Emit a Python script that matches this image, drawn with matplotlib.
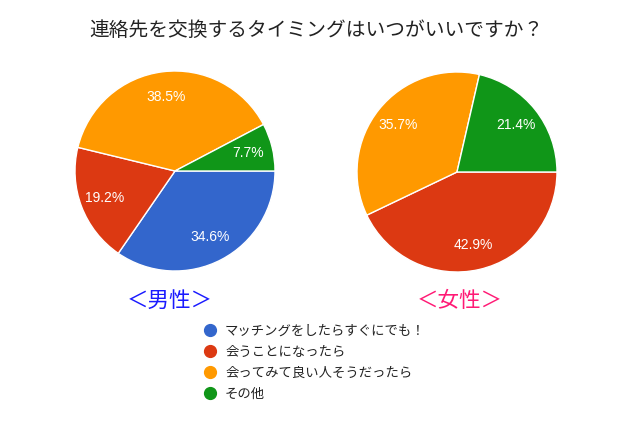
import matplotlib
matplotlib.use('Agg')
import matplotlib.pyplot as plt
from matplotlib.lines import Line2D

plt.rcParams['font.family'] = ['Noto Sans CJK JP', 'DejaVu Sans']

# データ
title = '連絡先を交換するタイミングはいつがいいですか？'
categories = ['マッチングをしたらすぐにでも！', '会うことになったら', '会ってみて良い人そうだったら', 'その他']
colors = ['#3366cc', '#dc3912', '#ff9900', '#109618']
male = [34.6, 19.2, 38.5, 7.7]
female = [0.0, 42.9, 35.7, 21.4]
group_labels = ['＜男性＞', '＜女性＞']
group_colors = ['#1a1aff', '#ff1a75']

W, H = 640, 425
fig = plt.figure(figsize=(W / 100, H / 100), dpi=100)
fig.patch.set_facecolor('white')


def pie_axes(cx, cy, r):
    # ピクセル座標から軸を作る
    return fig.add_axes([(cx - r) / W, 1 - (cy + r) / H, 2 * r / W, 2 * r / H])


def draw_pie(ax, vals):
    v = [x for x in vals if x > 0]
    c = [colors[i] for i, x in enumerate(vals) if x > 0]
    wedges, texts, autotexts = ax.pie(
        v, colors=c, startangle=0, counterclock=False, radius=1,
        autopct='%.1f%%', pctdistance=0.75,
        wedgeprops=dict(edgecolor='white', linewidth=1),
        textprops=dict(color='white', fontsize=10, family='Liberation Sans'))
    ax.set_xlim(-1.01, 1.01)
    ax.set_ylim(-1.01, 1.01)
    ax.axis('off')
    return wedges


ax1 = pie_axes(175, 171, 101)
draw_pie(ax1, male)
ax2 = pie_axes(457, 172, 101)
draw_pie(ax2, female)

fig.text(316 / W, 1 - 30 / H, title, ha='center', va='center', fontsize=14.2, color='#222222')
fig.text(170 / W, 1 - 301 / H, group_labels[0], ha='center', va='center', fontsize=15.5, color=group_colors[0])
fig.text(460 / W, 1 - 301 / H, group_labels[1], ha='center', va='center', fontsize=15.5, color=group_colors[1])

handles = [Line2D([], [], marker='o', linestyle='none', markersize=8.5,
                  markerfacecolor=col, markeredgecolor=col) for col in colors]
fig.legend(handles, categories, loc='upper left', bbox_to_anchor=(203.5 / W, 1 - 324 / H),
           frameon=False, fontsize=9.6, handlelength=1.0, handletextpad=0.62,
           labelspacing=0.52, borderpad=0, borderaxespad=0, labelcolor='#222222')

plt.savefig('out.png', dpi=100)
